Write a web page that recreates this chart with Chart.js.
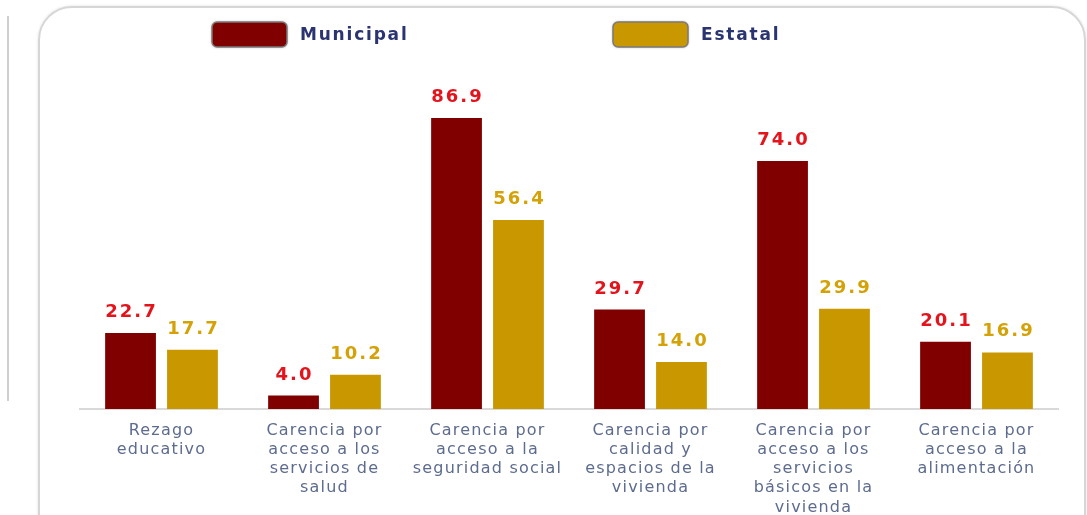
<!DOCTYPE html>
<html>
<head>
<meta charset="utf-8">
<script src="https://cdn.jsdelivr.net/npm/chart.js@4.4.0/dist/chart.umd.min.js"></script>
<style>
    html, body { margin: 0; padding: 0; background: #fff; overflow: hidden; }
    #wrap { position: relative; width: 1087px; height: 515px; overflow: hidden; }
    #frame {
        position: absolute; left: 38px; top: 6px; width: 1044px; height: 580px;
        border: 2px solid #d6d6d6; border-radius: 34px;
        box-shadow: 0 0 3px rgba(0, 0, 0, 0.12);
    }
    #sideLine { position: absolute; left: 7px; top: 16px; width: 2px; height: 385px; background: #cfcfcf; }
    #chartBox { position: absolute; left: 0; top: 0; width: 1087px; height: 521px; }
</style>
</head>
<body>
<div id="wrap">
    <div id="sideLine"></div>
    <div id="frame"></div>
    <div id="chartBox"><canvas id="povertyChart"></canvas></div>
</div>
<script>
const categories = [
    ['Rezago', 'educativo'],
    ['Carencia por', 'acceso a los', 'servicios de', 'salud'],
    ['Carencia por', 'acceso a la', 'seguridad social'],
    ['Carencia por', 'calidad y', 'espacios de la', 'vivienda'],
    ['Carencia por', 'acceso a los', 'servicios', 'básicos en la', 'vivienda'],
    ['Carencia por', 'acceso a la', 'alimentación']
];
const municipal = [22.7, 4.0, 86.9, 29.7, 74.0, 20.1];
const estatal = [17.7, 10.2, 56.4, 14.0, 29.9, 16.9];

const seriesNames = ['Municipal', 'Estatal'];
const barColors = ['#800000', '#c99700'];
const labelColors = ['#e3141c', '#d4a106'];

// slightly wider letters for the axis text, like the original picture
const spacing = {
    id: 'spacing',
    beforeDraw(chart) {
        chart.ctx.letterSpacing = '1.2px';
    }
};

// value labels above each bar
const valueLabels = {
    id: 'valueLabels',
    afterDatasetsDraw(chart) {
        const ctx = chart.ctx;
        ctx.save();
        ctx.font = 'bold 18px "DejaVu Sans"';
        ctx.letterSpacing = '2px';
        ctx.textAlign = 'center';
        ctx.textBaseline = 'alphabetic';
        chart.data.datasets.forEach((ds, i) => {
            chart.getDatasetMeta(i).data.forEach((bar, j) => {
                ctx.fillStyle = labelColors[i];
                ctx.fillText(ds.data[j].toFixed(1), bar.x + 1, bar.y - 16);
            });
        });
        ctx.restore();
    }
};

// legend with wide spacing like the original
const wideLegend = {
    id: 'wideLegend',
    afterDraw(chart, args, opts) {
        const ctx = chart.ctx;
        ctx.save();
        chart.data.datasets.forEach((ds, i) => {
            const x = opts.starts[i];
            const y = opts.top;
            ctx.shadowColor = 'rgba(0,0,0,0.4)';
            ctx.shadowBlur = 3;
            ctx.beginPath();
            ctx.roundRect(x, y, 75, 25, 5);
            ctx.fillStyle = ds.backgroundColor;
            ctx.fill();
            ctx.shadowBlur = 0;
            ctx.lineWidth = 1.5;
            ctx.strokeStyle = '#7a7a7a';
            ctx.stroke();
            ctx.font = 'bold 17px "DejaVu Sans"';
            ctx.letterSpacing = '1.8px';
            ctx.fillStyle = '#2a3470';
            ctx.textBaseline = 'middle';
            ctx.fillText(ds.label, x + 88, y + 14);
        });
        ctx.restore();
    }
};

const ctx = document.getElementById('povertyChart').getContext('2d');
new Chart(ctx, {
    type: 'bar',
    data: {
        labels: categories,
        datasets: [
            { label: seriesNames[0], data: municipal, backgroundColor: barColors[0] },
            { label: seriesNames[1], data: estatal, backgroundColor: barColors[1] }
        ]
    },
    options: {
        responsive: true,
        maintainAspectRatio: false,
        animation: false,
        categoryPercentage: 0.76,
        barPercentage: 0.82,
        layout: { padding: { left: 80, right: 29, top: 74, bottom: 0 } },
        plugins: {
            legend: { display: false },
            tooltip: { enabled: false },
            wideLegend: { starts: [212, 613], top: 22 }
        },
        scales: {
            y: {
                display: false,
                min: 0,
                max: 100
            },
            x: {
                grid: { display: false },
                border: { display: true, color: '#d9d9d9', width: 2 },
                ticks: {
                    color: '#5d6c8e',
                    font: { family: '"DejaVu Sans"', size: 16, lineHeight: 1.2 },
                    padding: 4,
                    maxRotation: 0,
                    autoSkip: false
                }
            }
        }
    },
    plugins: [spacing, valueLabels, wideLegend]
});
</script>
</body>
</html>
